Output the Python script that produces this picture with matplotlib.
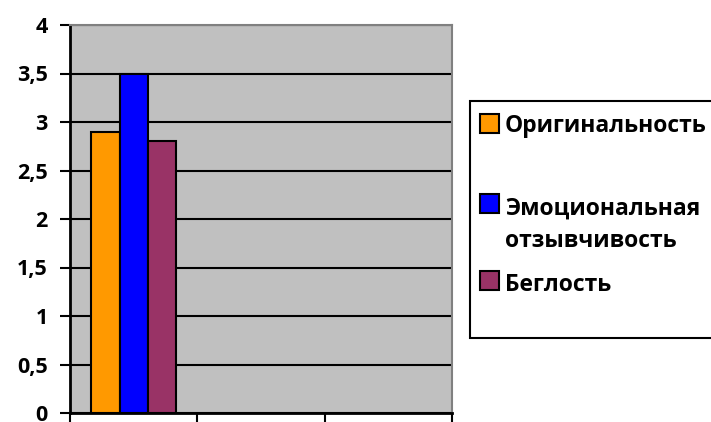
import matplotlib.pyplot as plt
from matplotlib.patches import Rectangle

# data
series = ['Оригинальность', 'Эмоциональная\nотзывчивость', 'Беглость']
values = [2.9, 3.5, 2.8]
colors = ['#FF9900', '#0000FF', '#993366']
categories = [0, 1, 2]
yticks = [0, 0.5, 1, 1.5, 2, 2.5, 3, 3.5, 4]
ytick_labels = ['0', '0,5', '1', '1,5', '2', '2,5', '3', '3,5', '4']

plt.rcParams['font.family'] = ['Open Sans', 'DejaVu Sans']
plt.rcParams['font.weight'] = 'bold'

fig = plt.figure(figsize=(7.11, 4.22), dpi=100)
ax = fig.add_axes([70 / 711, 9 / 422, 382 / 711, 388 / 422])
ax.set_facecolor('#C0C0C0')

bw = 0.222
for i, (v, c) in enumerate(zip(values, colors)):
    ax.bar(categories[0] + (i - 1) * bw, v, width=bw, color=c,
           edgecolor='black', linewidth=1.5, zorder=3)

ax.set_xlim(-0.5, len(categories) - 0.5)
ax.set_ylim(0, 4)
ax.set_yticks(yticks)
ax.set_yticklabels(ytick_labels, fontsize=15.5, fontweight='bold')
ax.set_xticks([-0.5, 0.5, 1.5, 2.5])
ax.set_xticklabels([])
ax.yaxis.grid(True, color='black', linewidth=1.5, zorder=1)
ax.set_axisbelow(True)
ax.tick_params(axis='y', length=7.5, width=1.5, pad=8.5)
ax.tick_params(axis='x', length=7, width=1.5)

ax.spines['left'].set_linewidth(2)
ax.spines['bottom'].set_linewidth(2)
ax.spines['top'].set_color('#808080')
ax.spines['right'].set_color('#808080')
ax.spines['top'].set_linewidth(1.5)
ax.spines['right'].set_linewidth(1.5)

# legend box drawn by hand (Excel-style uneven spacing)
fig.patches.append(Rectangle((470 / 711, 1 - 338 / 422), 245 / 711, 237 / 422,
                             transform=fig.transFigure, facecolor='white',
                             edgecolor='black', linewidth=1.5))
square_y = [123.5, 203, 280.5]
text_y = [126, 225, 285]
for lab, c, sy, ty in zip(series, colors, square_y, text_y):
    fig.patches.append(Rectangle((480 / 711, 1 - (sy + 9.5) / 422), 19 / 711, 19 / 422,
                                 transform=fig.transFigure, facecolor=c,
                                 edgecolor='black', linewidth=1.5))
    fig.text(505 / 711, 1 - ty / 422, lab, fontsize=16.5, fontweight='bold',
             va='center', ha='left', linespacing=1.45)

fig.savefig('out.png', dpi=100)
